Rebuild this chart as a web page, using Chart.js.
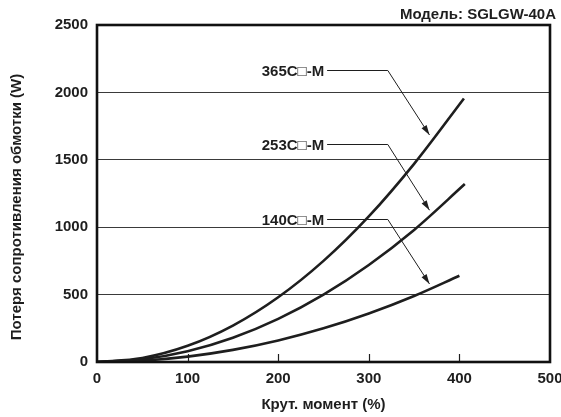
<!DOCTYPE html>
<html lang="ru">
<head>
  <meta charset="UTF-8" />
  <title>SGLGW-40A</title>
  <script src="https://cdn.jsdelivr.net/npm/chart.js"></script>
  <style>
    html, body { margin: 0; padding: 0; background: #fff; }
    #wrap { width: 561px; height: 417px; }
  </style>
</head>
<body>
  <div id="wrap"><canvas id="lossChart" width="561" height="417"></canvas></div>

  <script>
    // values (torque %, loss W)
    const torque365 = [0, 50, 100, 150, 200, 250, 300, 350, 405];
    const loss365   = [0, 30, 120, 270, 480, 750, 1080, 1470, 1955];
    const torque253 = [0, 50, 100, 150, 200, 250, 300, 350, 406];
    const loss253   = [0, 20, 80, 180, 320, 500, 720, 980, 1320];
    const torque140 = [0, 50, 100, 150, 200, 250, 300, 350, 400];
    const loss140   = [0, 10, 40, 90, 160, 250, 360, 490, 640];

    const xTicks = [0, 100, 200, 300, 400, 500];
    const yTicks = [0, 500, 1000, 1500, 2000, 2500];

    // callout labels with leader + arrow (data coordinates)
    const labelNames   = ['365C\u25A1-M', '253C\u25A1-M', '140C\u25A1-M'];
    const leaderStartX = [254, 254, 254];
    const leaderBendX  = [321, 321, 321];
    const leaderY      = [2167, 1617, 1060];
    const arrowTipX    = [367, 367, 367];
    const arrowTipY    = [1684, 1126, 579];

    const yTitle = 'Потеря сопротивления обмотки (W)';

    const FONT = '"Liberation Sans", Arial, Helvetica, sans-serif';
    const INK = '#1e1e1e';
    const TXT = { family: FONT, size: 15, weight: 'bold' };

    const toPoints = (xs, ys) => xs.map((x, i) => ({ x: x, y: ys[i] }));

    const lineStyle = {
      borderColor: INK,
      borderWidth: 2.6,
      pointRadius: 0,
      fill: false,
      tension: 0.4,
      cubicInterpolationMode: 'monotone'
    };

    const framePlugin = {
      id: 'frame',
      afterDatasetsDraw(chart) {
        const ctx = chart.ctx;
        const a = chart.chartArea;
        const xs = chart.scales.x;
        const ys = chart.scales.y;
        ctx.save();

        // inward tick marks on bottom axis
        ctx.strokeStyle = INK;
        ctx.lineWidth = 1.2;
        xTicks.slice(1, -1).forEach(t => {
          const px = Math.round(xs.getPixelForValue(t)) + 0.5;
          ctx.beginPath();
          ctx.moveTo(px, a.bottom);
          ctx.lineTo(px, a.bottom - 8);
          ctx.stroke();
        });

        // callouts
        ctx.font = 'bold 15px ' + FONT;
        ctx.fillStyle = INK;
        ctx.textAlign = 'right';
        ctx.textBaseline = 'middle';
        labelNames.forEach((name, i) => {
          const x0 = xs.getPixelForValue(leaderStartX[i]);
          const x1 = xs.getPixelForValue(leaderBendX[i]);
          const y0 = Math.round(ys.getPixelForValue(leaderY[i])) + 0.5;
          const x2 = xs.getPixelForValue(arrowTipX[i]);
          const y2 = ys.getPixelForValue(arrowTipY[i]);
          ctx.fillText(name, x0 - 3, y0 + 1);

          ctx.lineWidth = 1;
          ctx.beginPath();
          ctx.moveTo(x0, y0);
          ctx.lineTo(x1, y0);
          ctx.lineTo(x2, y2);
          ctx.stroke();

          const ang = Math.atan2(y2 - y0, x2 - x1);
          const len = 10, half = 3;
          ctx.beginPath();
          ctx.moveTo(x2, y2);
          ctx.lineTo(x2 - len * Math.cos(ang) + half * Math.sin(ang),
                     y2 - len * Math.sin(ang) - half * Math.cos(ang));
          ctx.lineTo(x2 - len * Math.cos(ang) - half * Math.sin(ang),
                     y2 - len * Math.sin(ang) + half * Math.cos(ang));
          ctx.closePath();
          ctx.fill();
        });

        // y axis title, sits a little below the axis middle in the original
        ctx.translate(17, 207);
        ctx.rotate(-Math.PI / 2);
        ctx.textAlign = 'center';
        ctx.fillText(yTitle, 0, 0);
        ctx.setTransform(1, 0, 0, 1, 0, 0);

        // plot frame
        ctx.lineWidth = 2.6;
        ctx.strokeStyle = '#111';
        ctx.strokeRect(a.left, a.top, a.right - a.left, a.bottom - a.top);
        ctx.restore();
      }
    };

    new Chart(document.getElementById('lossChart').getContext('2d'), {
      type: 'line',
      data: {
        datasets: [
          Object.assign({ label: '365C-M', data: toPoints(torque365, loss365) }, lineStyle),
          Object.assign({ label: '253C-M', data: toPoints(torque253, loss253) }, lineStyle),
          Object.assign({ label: '140C-M', data: toPoints(torque140, loss140) }, lineStyle)
        ]
      },
      options: {
        responsive: false,
        animation: false,
        layout: { padding: { left: 0, right: 5, top: 0, bottom: 0 } },
        plugins: {
          legend: { display: false },
          tooltip: { enabled: false },
          title: {
            display: true,
            text: 'Модель: SGLGW-40A',
            align: 'end',
            color: INK,
            font: TXT,
            padding: { top: 6, bottom: 1 }
          }
        },
        scales: {
          x: {
            type: 'linear',
            min: 0,
            max: 500,
            afterBuildTicks: s => { s.ticks = xTicks.map(v => ({ value: v })); },
            afterFit: s => { s.height = 55; s.paddingRight = 11; },
            grid: { display: false, drawTicks: false },
            border: { display: false },
            ticks: {
              color: INK,
              padding: 8,
              font: TXT,
              callback: v => String(v)
            },
            title: {
              display: true,
              text: 'Крут. момент (%)',
              color: INK,
              font: TXT,
              padding: { top: 4, bottom: 3 }
            }
          },
          y: {
            min: 0,
            max: 2500,
            afterBuildTicks: s => { s.ticks = yTicks.map(v => ({ value: v })); },
            afterFit: s => { s.width = 97; },
            grid: {
              color: ctx => (ctx.tick && (ctx.tick.value === 0 || ctx.tick.value === 2500)) ? 'rgba(0,0,0,0)' : '#3a3a3a',
              lineWidth: 1,
              drawTicks: false
            },
            border: { display: false },
            ticks: {
              color: INK,
              padding: 9,
              font: TXT,
              callback: v => String(v)
            },
            title: { display: false }
          }
        }
      },
      plugins: [framePlugin]
    });
  </script>
</body>
</html>
